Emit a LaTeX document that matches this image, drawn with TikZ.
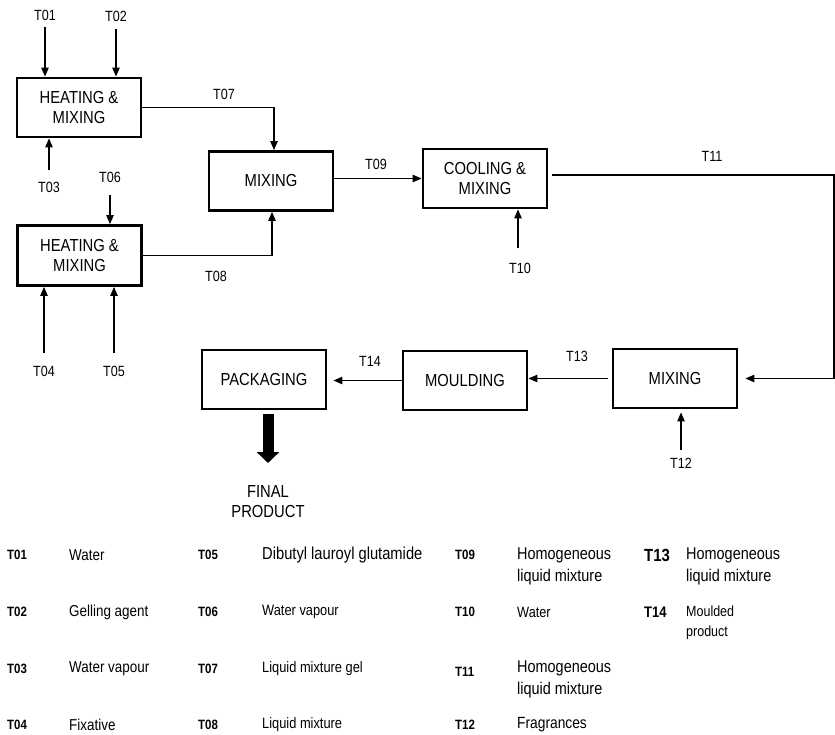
\documentclass[tikz,border=0pt]{standalone}
\usepackage{fontspec}
\setmainfont[FakeStretch=0.85]{Liberation Sans}
\usetikzlibrary{arrows.meta,calc}
\newcommand{\fs}[2]{\fontsize{#1}{#2}\selectfont}
\begin{document}
\begin{tikzpicture}[x=1pt,y=-1pt,
 box/.style={draw,line width=2.9pt,minimum width=124pt,minimum height=59pt,align=center,inner sep=0pt,font=\fs{17.4}{20}},
 lbl/.style={inner sep=0pt,font=\fs{14.8}{15}},
 arr/.style={line width=1.1pt,-{Triangle[length=9pt,width=7.5pt]}},
 code/.style={inner sep=0pt,anchor=west,font=\bfseries\fs{13.5}{14}},
 desc/.style={inner sep=0pt,anchor=west,align=left,font=\fs{15.8}{22}},
 descb/.style={inner sep=0pt,anchor=west,align=left,font=\fs{17}{22}},
]
\path[use as bounding box] (0,0) rectangle (835,734);

% process boxes
\node[box] (h1) at (79,107.5) {HEATING \&\\MIXING};
\node[box,minimum height=60pt] (h2) at (79.5,255.5) {HEATING \&\\MIXING};
\node[box] (mix1) at (271,181) {MIXING};
\node[box] (cool) at (485,178.5) {COOLING \&\\MIXING};
\node[box] (mix3) at (675,378.5) {MIXING};
\node[box] (mould) at (465,380.5) {MOULDING};
\node[box] (pack) at (264,379.5) {PACKAGING};
\node[inner sep=0pt,align=center,font=\fs{17.4}{20}] (final) at (268,502) {FINAL\\PRODUCT};

% stream labels
\node[lbl] (t01) at (45,15) {T01};
\node[lbl] (t02) at (116,16) {T02};
\node[lbl] (t03) at (49,187) {T03};
\node[lbl] (t06) at (110,177) {T06};
\node[lbl] (t04) at (44,371) {T04};
\node[lbl] (t05) at (114,371) {T05};
\node[lbl] (t07) at (224,94) {T07};
\node[lbl] (t08) at (216,276) {T08};
\node[lbl] (t09) at (376,164) {T09};
\node[lbl] (t10) at (520,268) {T10};
\node[lbl] (t11) at (712,156) {T11};
\node[lbl] (t12) at (681,463) {T12};
\node[lbl] (t13) at (577,356) {T13};
\node[lbl] (t14) at (370,361) {T14};

% free arrow starts
\coordinate (s01) at (45,27);
\coordinate (s02) at (116,29);
\coordinate (s03) at (49,170);
\coordinate (s06) at (110,195);
\coordinate (s04) at (44,353);
\coordinate (s05) at (114,353);
\coordinate (s10) at (518,248);
\coordinate (s12) at (681,450);
\coordinate (c11) at (834,175);
\coordinate (ftip) at (268,463);

% connectors
\draw[arr] (s01) -- (s01 |- h1.north);
\draw[arr] (s02) -- (s02 |- h1.north);
\draw[arr] (s03) -- (s03 |- h1.south);
\draw[arr] (s06) -- (s06 |- h2.north);
\draw[arr] (s04) -- (s04 |- h2.south);
\draw[arr] (s05) -- (s05 |- h2.south);
\draw[arr] (h1.east) -| ([xshift=3pt]mix1.north);
\draw[arr] (h2.east) -| ([xshift=1pt]mix1.south);
\draw[arr] (mix1.east |- cool.west) -- (cool.west);
\draw[arr] (s10) -- (s10 |- cool.south);
\draw[arr,shorten >=7pt] ([xshift=4pt]cool.east |- c11) -- (c11) |- (mix3.east);
\draw[arr,shorten >=3pt] (s12) -- (s12 |- mix3.south);
\draw[arr] ([xshift=-4pt]mix3.west) -- (mould.east |- mix3.west);
\draw[arr,shorten >=6pt] (mould.west) -- (pack.east |- mould.west);
\draw[line width=11pt,-{Triangle[length=11pt,width=22pt]},shorten <=4pt] (final |- pack.south) -- (ftip);

% legend
\node[code] (l01) at (7,555) {T01};   \node[desc] (d01) at (69,555) {Water};
\node[code] (l02) at (7,612) {T02};   \node[desc] (d02) at (69,612) {Gelling agent};
\node[code] (l03) at (7,669) {T03};   \node[desc] (d03) at (69,669) {Water vapour};
\node[code] (l04) at (7,725) {T04};   \node[desc] (d04) at (69,725) {Fixative};

\node[code] (l05) at (198,555) {T05}; \node[desc,font=\fs{17.3}{18}] (d05) at (262,555) {Dibutyl lauroyl glutamide};
\node[code] (l06) at (198,612) {T06}; \node[desc,font=\fs{15.1}{16}] (d06) at (262,612) {Water vapour};
\node[code] (l07) at (198,669) {T07}; \node[desc,font=\fs{15.1}{16}] (d07) at (262,669) {Liquid mixture gel};
\node[code] (l08) at (198,725) {T08}; \node[desc,font=\fs{15.1}{16}] (d08) at (262,725) {Liquid mixture};

\node[code] (l09) at (455,555) {T09}; \node[descb] (d09) at (517,566) {Homogeneous\\liquid mixture};
\node[code] (l10) at (455,612) {T10}; \node[desc,font=\fs{15}{16}] (d10) at (517,612) {Water};
\node[code] (l11) at (455,672) {T11}; \node[descb] (d11) at (517,679) {Homogeneous\\liquid mixture};
\node[code] (l12) at (455,725) {T12}; \node[desc,font=\fs{16.2}{16}] (d12) at (517,725) {Fragrances};

\node[code,font=\bfseries\fs{17.6}{18}] (l13) at (644,555) {T13}; \node[descb] (d13) at (686,566) {Homogeneous\\liquid mixture};
\node[code,font=\bfseries\fs{15.3}{16}] (l14) at (644,612) {T14}; \node[desc,font=\fs{14.7}{20}] (d14) at (686,623) {Moulded\\product};
\end{tikzpicture}
\end{document}
